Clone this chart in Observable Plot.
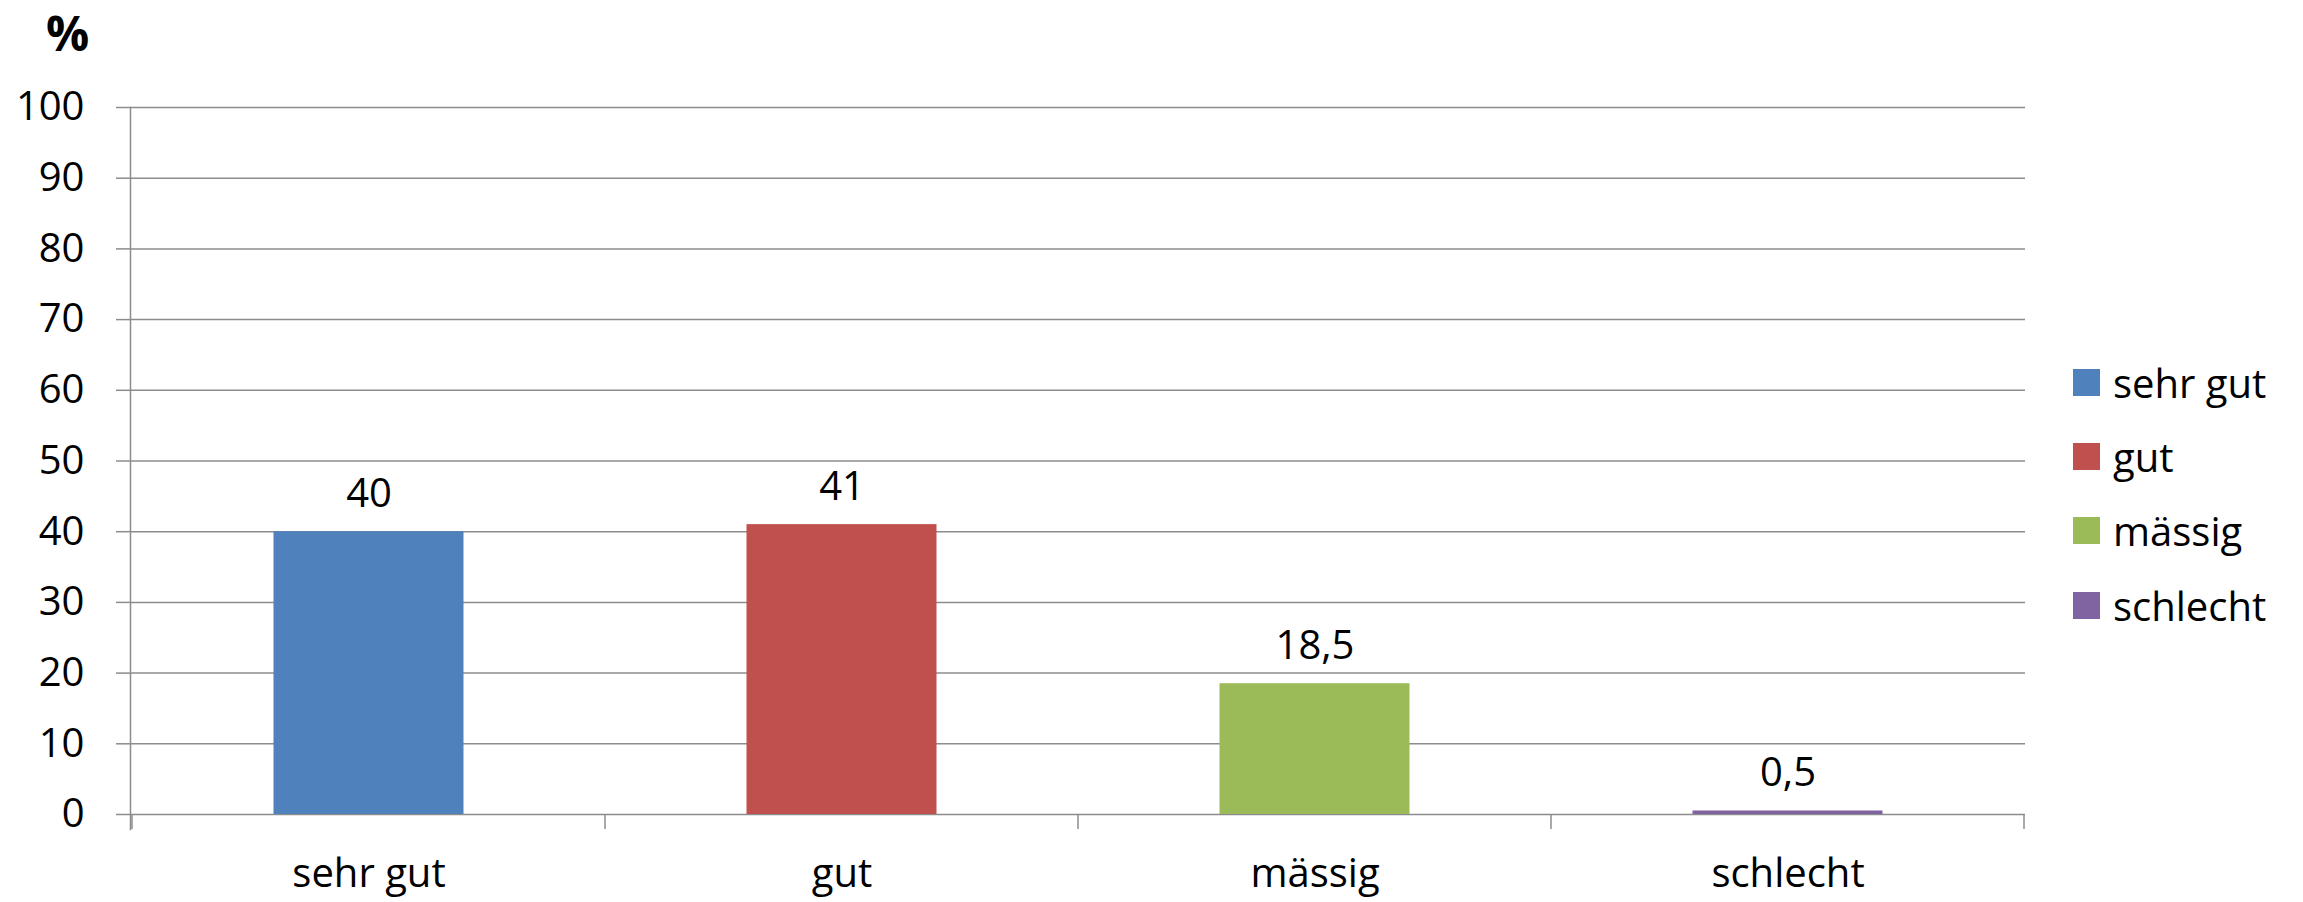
<!DOCTYPE html>
<html><head><meta charset="utf-8">
<script src="https://cdn.jsdelivr.net/npm/d3@7"></script>
<script src="https://cdn.jsdelivr.net/npm/@observablehq/plot@0.6"></script>
<style>
body{margin:0;background:#fff;font-family:"Open Sans",sans-serif;color:#000;}
#wrap{position:relative;width:2303px;height:902px;overflow:hidden;background:#fff}
#title{height:60px;font-weight:bold;font-size:48px;line-height:66px;padding-left:46px;box-sizing:border-box;overflow:visible}
#legend{position:absolute;left:2073px;top:345px;font-size:40px}
.li{display:flex;align-items:center;height:74.3px}
.sw{width:27px;height:27px;margin-right:13px;flex:none}
#chart{position:absolute;left:0;top:60px}
</style></head><body>
<div id="wrap"><div id="title">%</div><div id="chart"></div><div id="legend"></div></div>
<script>
const categories = ["sehr gut", "gut", "mässig", "schlecht"];
const values = [40, 41, 18.5, 0.5];
const valueLabels = ["40", "41", "18,5", "0,5"];
const colors = ["#4F81BD", "#C0504D", "#9BBB59", "#8064A2"];
const yTicks = [0, 10, 20, 30, 40, 50, 60, 70, 80, 90, 100];

const data = categories.map((c, i) => ({category: c, value: values[i], label: valueLabels[i]}));
const gridColor = "#8c8c8c";

function boundaryTicks(index, scales, vals, dims) {
  const x = scales.x, y = scales.y;
  const bw = x.bandwidth();
  const xs = x.domain().map(d => x(d));
  xs.push(xs[xs.length - 1] + bw);
  const y0 = y(0);
  const g = d3.create("svg:g").attr("stroke", gridColor).attr("stroke-width", 1.5);
  for (const px of xs) g.append("line").attr("x1", px).attr("x2", px).attr("y1", y0).attr("y2", y0 + 15);
  return g.node();
}

const chart = Plot.plot({
  width: 2303,
  height: 842,
  marginTop: 47,
  marginBottom: 88,
  marginLeft: 130,
  marginRight: 278,
  style: {fontFamily: "'Open Sans', sans-serif", fontSize: "40px", color: "#000", background: "#fff"},
  x: {domain: categories, padding: 0, axis: null},
  y: {domain: [0, 100], axis: null},
  color: {domain: categories, range: colors},
  marks: [
    Plot.gridY(yTicks, {stroke: gridColor, strokeOpacity: 1, strokeWidth: 1.5}),
    Plot.frame({anchor: "left", stroke: gridColor, strokeWidth: 1.5, insetBottom: -15}),
    Plot.axisY({ticks: yTicks, tickSize: 14, tickPadding: 32, stroke: gridColor, strokeWidth: 1.5, fill: "#000", label: null, fontSize: 40}),
    Plot.axisX({tickSize: 0, tickPadding: 44, fill: "#000", label: null, fontSize: 40}),
    boundaryTicks,
    Plot.barY(data, {x: "category", y: "value", fill: "category", insetLeft: 141.5, insetRight: 141.5}),
    Plot.text(data, {x: "category", y: "value", text: "label", lineAnchor: "bottom", dy: -25, fontSize: 40, fill: "#000"})
  ]
});
document.getElementById("chart").appendChild(chart);

const legend = d3.select("#legend");
categories.forEach((c, i) => {
  const row = legend.append("div").attr("class", "li");
  row.append("div").attr("class", "sw").style("background", colors[i]);
  row.append("span").text(c);
});
</script>
</body></html>
